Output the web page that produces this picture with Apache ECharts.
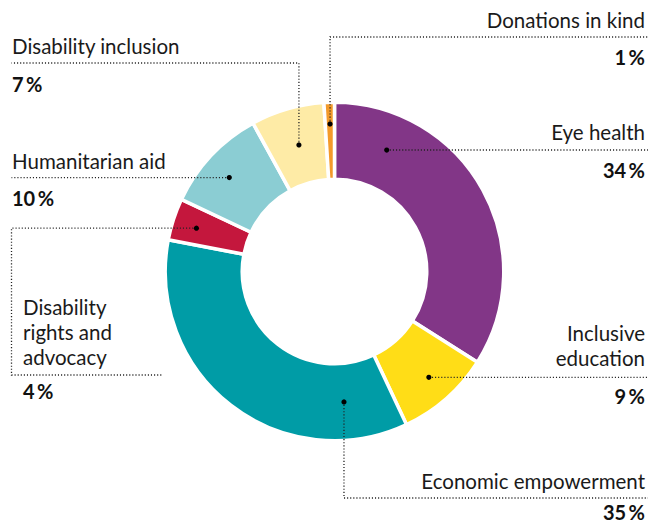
<!DOCTYPE html>
<html><head><meta charset="utf-8">
<script src="https://cdn.jsdelivr.net/npm/echarts@6/dist/echarts.min.js"></script>
<style>html,body{margin:0;padding:0;background:#fff}#c{width:649px;height:526px}</style>
</head><body><div id="c"></div>
<script>
// ---- data ----
const categories = ['Eye health', 'Inclusive education', 'Economic empowerment', 'Disability rights and advocacy', 'Humanitarian aid', 'Disability inclusion', 'Donations in kind'];
const values = [34, 9, 35, 4, 10, 7, 1];
const nameLabels = [['Eye health'], ['Inclusive', 'education'], ['Economic empowerment'], ['Disability', 'rights and', 'advocacy'], ['Humanitarian aid'], ['Disability inclusion'], ['Donations in kind']];
const percentLabels = values.map(v => v + '\u2009%');

// ---- styles / layout ----
const palette = ['#823687', '#FFDD17', '#009CA6', '#C4173D', '#8BCDD3', '#FEEBA6', '#F39A2A'];
const FONT = 'Lato, "Open Sans", sans-serif';
const BW = 3.5;
const CX = 334.5, CY = 271.5, R_OUT = 167.5, R_IN = 94;
// f: position along slice angle (0..1), g: position across ring (0..1)
const annot = [
  {f: 0.19, g: 0.52, route: [['h', 648]], align: 'right', tx: 645, nameOff: -18, valOff: 20},
  {f: 0.49, g: 0.65, route: [['h', 648]], align: 'right', tx: 645, nameOff: -19, valOff: 19},
  {f: 0.167, g: 0.50, route: [['v', 498], ['h', 648]], align: 'right', tx: 645, nameOff: -17, valOff: 14},
  {f: 0.46, g: 0.69, route: [['h', 11.5], ['v', 375], ['h', 162]], align: 'left', tx: 23, nameOff: -18, valOff: 16},
  {f: 0.46, g: 0.64, route: [['h', 11.5]], align: 'left', tx: 12, nameOff: -17, valOff: 20},
  {f: 0.52, g: 0.51, route: [['v', 63], ['h', 11.5]], align: 'left', tx: 12, nameOff: -17, valOff: 21},
  {f: 0.52, g: 0.73, route: [['v', 37], ['h', 648]], align: 'right', tx: 645, nameOff: -17, valOff: 20}
];

const chart = echarts.init(document.getElementById('c'), null, {renderer: 'svg'});
chart.setOption({
  animation: false,
  series: [{
    type: 'pie',
    silent: true,
    center: [CX, CY],
    radius: [R_IN - BW / 2, R_OUT + BW / 2],
    startAngle: 90,
    clockwise: true,
    label: {show: false},
    labelLine: {show: false},
    itemStyle: {borderColor: '#fff', borderWidth: BW},
    data: categories.map((c, i) => ({name: c, value: values[i], itemStyle: {color: palette[i]}}))
  }]
});

// ---- annotations derived from slice layout ----
const data = chart.getModel().getSeriesByIndex(0).getData();
const elements = [];
categories.forEach((c, i) => {
  const lay = data.getItemLayout(i);
  const a = lay.startAngle + annot[i].f * (lay.endAngle - lay.startAngle);
  const r0 = R_IN, r1 = R_OUT;
  const rr = r0 + annot[i].g * (r1 - r0);
  const dot = [lay.cx + rr * Math.cos(a), lay.cy + rr * Math.sin(a)];
  const pts = [dot];
  let p = dot;
  annot[i].route.forEach(s => {
    p = s[0] === 'h' ? [s[1], p[1]] : [p[0], s[1]];
    pts.push(p);
  });
  const lineY = p[1];
  elements.push({type: 'polyline', z: 100, shape: {points: pts},
    style: {stroke: '#222', lineWidth: 1.3, lineDash: [1.1, 2], fill: null}});
  elements.push({type: 'circle', z: 101, shape: {cx: dot[0], cy: dot[1], r: 2.6}, style: {fill: '#000'}});
  const nl = nameLabels[i];
  elements.push({type: 'text', z: 101, x: annot[i].tx, y: lineY + annot[i].nameOff + 12.5,
    style: {text: nl.join('\n'), fontFamily: FONT, fontSize: 20.5, lineHeight: 25, fill: '#1a1a1a',
      align: annot[i].align, verticalAlign: 'bottom'}});
  elements.push({type: 'text', z: 101, x: annot[i].tx, y: lineY + annot[i].valOff,
    style: {text: percentLabels[i], fontFamily: FONT, fontSize: 20, lineHeight: 18, fontWeight: 'bold', fill: '#111',
      align: annot[i].align, verticalAlign: 'middle'}});
});
chart.setOption({graphic: {elements: elements}});
</script>
</body></html>
